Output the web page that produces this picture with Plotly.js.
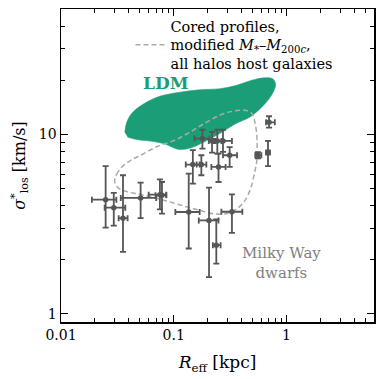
<!DOCTYPE html>
<html>
<head>
<meta charset="utf-8">
<script src="https://cdn.plot.ly/plotly-3.0.1.min.js"></script>
<style>html,body{margin:0;padding:0;background:#fff;}#plot{width:383px;height:379px;}</style>
</head>
<body>
<div id="plot"></div>
<script>
// Milky Way dwarfs: effective radius [kpc] and stellar velocity dispersion [km/s]
const dwarfR    = [0.0249, 0.0294, 0.0355, 0.0509, 0.0755, 0.0787, 0.136, 0.206, 0.239, 0.329, 0.148, 0.176, 0.250, 0.180, 0.219, 0.244, 0.274, 0.314, 0.560, 0.687, 0.702];
const dwarfRlo  = [0.0188, 0.0244, 0.0325, 0.0339, 0.060, 0.069, 0.1035, 0.167, 0.223, 0.265, 0.128, 0.160, 0.216, 0.153, 0.205, 0.225, 0.231, 0.274, 0.53, 0.66, 0.66];
const dwarfRhi  = [0.031, 0.0372, 0.039, 0.070, 0.086, 0.086, 0.170, 0.250, 0.261, 0.407, 0.170, 0.195, 0.289, 0.208, 0.235, 0.265, 0.329, 0.365, 0.60, 0.715, 0.79];
const dwarfSig  = [4.32, 3.90, 3.41, 4.42, 4.61, 4.57, 3.69, 3.31, 2.41, 3.70, 6.78, 6.78, 6.58, 9.46, 9.18, 9.18, 9.18, 7.64, 7.64, 7.91, 11.66];
const dwarfSlo  = [3.02, 3.10, 2.21, 3.41, 3.82, 3.61, 2.31, 1.60, 1.90, 2.82, 5.31, 5.91, 5.42, 8.32, 7.91, 7.80, 7.97, 6.58, 7.35, 6.65, 10.9];
const dwarfShi  = [6.64, 4.71, 5.91, 5.38, 5.61, 5.42, 6.04, 5.04, 3.36, 4.62, 8.15, 7.64, 7.80, 10.6, 10.3, 10.6, 10.6, 8.49, 7.95, 9.18, 12.6];

// LDM region outline
const ldmR   = [0.0368, 0.0383, 0.0433, 0.0553, 0.0751, 0.1130, 0.1701, 0.2560, 0.3622, 0.4922, 0.6418, 0.7557, 0.8035, 0.7557, 0.6289, 0.4724, 0.3622, 0.2560, 0.1884, 0.1386, 0.1085, 0.0849, 0.0638, 0.0479, 0.0391];
const ldmSig = [10.26, 11.67, 13.27, 14.89, 16.29, 17.15, 17.71, 17.94, 18.76, 20.01, 20.66, 20.39, 19.00, 16.93, 14.51, 12.44, 11.52, 10.09, 9.08, 8.36, 8.25, 8.79, 9.14, 9.32, 9.62];

// Cored profiles contour
const coredR   = [0.02996, 0.03119, 0.03456, 0.04153, 0.05308, 0.07211, 0.1021, 0.1386, 0.1884, 0.2560, 0.3339, 0.4266, 0.4922, 0.5233, 0.5450, 0.5507, 0.5450, 0.5233, 0.4922, 0.4353, 0.3697, 0.3013, 0.2264, 0.1701, 0.1252, 0.0922, 0.0678, 0.0499, 0.0375, 0.0318, 0.02996];
const coredSig = [5.47, 5.98, 6.55, 7.16, 7.74, 8.57, 9.26, 10.26, 11.52, 12.76, 13.44, 13.61, 13.10, 11.82, 10.13, 8.36, 6.98, 6.14, 5.20, 4.34, 3.87, 3.63, 3.60, 3.77, 3.97, 4.20, 4.43, 4.63, 4.81, 5.06, 5.47];

// Tick labels
const xTickVals = [0.01, 0.1, 1];
const xTickText = ['0.01', '0.1', '1'];
const yTickVals = [1, 10];
const yTickText = ['1', '10'];

const xMinor = [];
[0.01, 0.1, 1].forEach(d => { for (let k = 2; k <= 9; k++) if (d * k < 6) xMinor.push(d * k); });
const yMinor = [];
[1, 10].forEach(d => { for (let k = 2; k <= 9; k++) if (d * k < 50) yMinor.push(d * k); });

const serif = 'DejaVu Serif';
const green = '#1b9e77';
const grey = '#555555';

const traces = [
  {
    x: ldmR, y: ldmSig, mode: 'lines', fill: 'toself', fillcolor: green,
    line: {color: green, width: 0.5, shape: 'spline', smoothing: 1}, showlegend: false, hoverinfo: 'skip'
  },
  {
    x: coredR, y: coredSig, mode: 'lines',
    line: {color: '#aaaaaa', width: 1.5, dash: '5px,3px', shape: 'spline', smoothing: 1},
    name: 'Cored profiles,<br>modified <i>M</i><sub>*</sub>–<i>M</i><sub>200<i>c</i></sub>,<br>all halos host galaxies',
    showlegend: true
  },
  {
    x: dwarfR, y: dwarfSig, mode: 'markers',
    marker: {color: grey, size: 5.5},
    error_x: {type: 'data', symmetric: false,
      array: dwarfR.map((v, i) => dwarfRhi[i] - v),
      arrayminus: dwarfR.map((v, i) => v - dwarfRlo[i]),
      color: grey, thickness: 1.8, width: 3},
    error_y: {type: 'data', symmetric: false,
      array: dwarfSig.map((v, i) => dwarfShi[i] - v),
      arrayminus: dwarfSig.map((v, i) => v - dwarfSlo[i]),
      color: grey, thickness: 1.8, width: 3},
    showlegend: false
  }
];

const axisCommon = {
  type: 'log', showgrid: false, zeroline: false,
  showline: true, linecolor: '#000', linewidth: 1.5, mirror: 'allticks',
  ticks: 'inside', ticklen: 7, tickwidth: 1, tickcolor: '#000',
  tickfont: {family: serif, size: 14, color: '#000'},
  tickmode: 'array'
};

const layout = {
  width: 383, height: 379,
  margin: {l: 61, r: 9, t: 9, b: 57},
  paper_bgcolor: '#fff', plot_bgcolor: '#fff',
  font: {family: serif, color: '#000'},
  xaxis: Object.assign({}, axisCommon, {
    range: [-2, 0.778], tickvals: xTickVals, ticktext: xTickText,
    minor: {ticks: 'inside', ticklen: 4, tickwidth: 1, tickcolor: '#000', tickmode: 'array', tickvals: xMinor},
    title: {text: '<i>R</i><sub>eff</sub> [kpc]', font: {family: serif, size: 17}, standoff: 14}
  }),
  yaxis: Object.assign({}, axisCommon, {
    range: [-0.046, 1.698], tickvals: yTickVals, ticktext: yTickText,
    minor: {ticks: 'inside', ticklen: 4, tickwidth: 1, tickcolor: '#000', tickmode: 'array', tickvals: yMinor},
    title: {text: '<i>σ</i><sup>*</sup><sub>los</sub> [km/s]', font: {family: serif, size: 16}, standoff: 9}
  }),
  showlegend: true,
  legend: {
    x: 0.222, y: 0.997, xanchor: 'left', yanchor: 'top',
    bgcolor: 'rgba(0,0,0,0)', borderwidth: 0,
    font: {family: serif, size: 14.5, color: '#000'},
    itemwidth: 30
  },
  annotations: [
    {xref: 'paper', yref: 'paper', x: 0.334, y: 0.762, xanchor: 'center', yanchor: 'middle',
     text: '<b>LDM</b>', showarrow: false,
     font: {family: serif, size: 17, color: green}},
    {xref: 'paper', yref: 'paper', x: 0.704, y: 0.187, xanchor: 'center', yanchor: 'middle',
     text: 'Milky Way<br>dwarfs', showarrow: false,
     font: {family: serif, size: 15, color: '#808080'}}
  ]
};

Plotly.newPlot('plot', traces, layout, {displayModeBar: false, staticPlot: true});
</script>
</body>
</html>
